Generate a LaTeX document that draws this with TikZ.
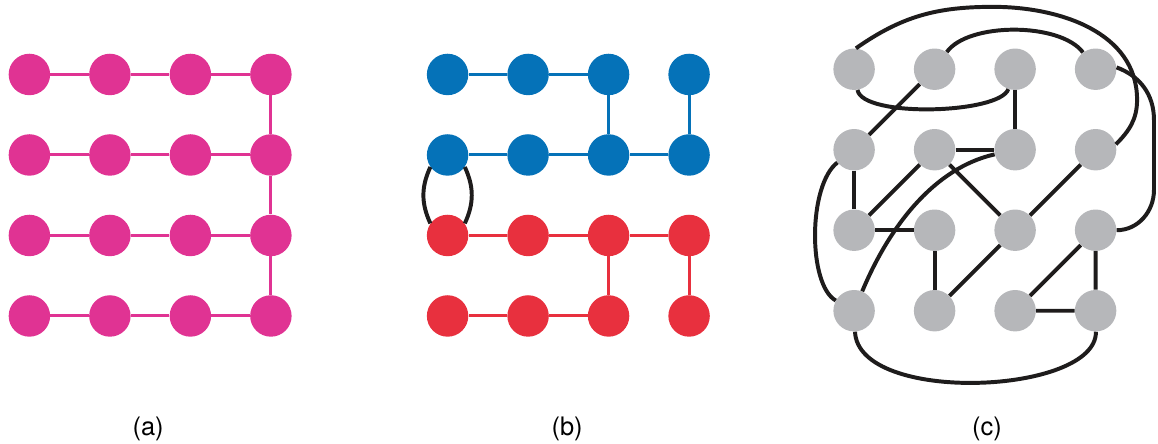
\documentclass[tikz,border=0pt]{standalone}
\usepackage{fontspec}
\setmainfont{TeX Gyre Heros}
\usetikzlibrary{positioning,calc}

\definecolor{pinkdot}{RGB}{224,51,147}
\definecolor{bluedot}{RGB}{5,114,184}
\definecolor{reddot}{RGB}{232,48,62}
\definecolor{graydot}{RGB}{182,183,186}
\definecolor{wireblack}{RGB}{30,28,28}

\tikzset{
	dot/.style={circle, fill=#1, minimum size=1.03cm, inner sep=0pt},
	link/.style={line width=2.1pt, draw=#1},
	wire/.style={line width=2.8pt, draw=wireblack},
	tag/.style={font=\fontsize{18}{20}\selectfont}
}

\begin{document}
\begin{tikzpicture}
	\useasboundingbox (0,0) rectangle (28.77,-11.03);

	% Grid (a)
	\foreach \r in {1,...,4}
		\foreach \c in {1,...,4}
			\node[dot=pinkdot] (a\r\c) at ({0.73+2*(\c-1)}, {-1.85-2*(\r-1)}) {};
	\foreach \r in {1,...,4}
		\draw[link=pinkdot] (a\r1) -- (a\r2) -- (a\r3) -- (a\r4);
	\draw[link=pinkdot] (a14) -- (a24) -- (a34) -- (a44);
	\node[tag] (capa) at (3.68,-10.66) {(a)};

	% Grid (b)
	\foreach \r in {1,2}
		\foreach \c in {1,...,4}
			\node[dot=bluedot] (b\r\c) at ({11.12+2*(\c-1)}, {-1.85-2*(\r-1)}) {};
	\foreach \r in {3,4}
		\foreach \c in {1,...,4}
			\node[dot=reddot] (b\r\c) at ({11.12+2*(\c-1)}, {-1.85-2*(\r-1)}) {};
	\draw[link=bluedot] (b11) -- (b12) -- (b13) -- (b23);
	\draw[link=bluedot] (b21) -- (b22) -- (b23) -- (b24) -- (b14);
	\draw[link=reddot] (b31) -- (b32) -- (b33) -- (b34) -- (b44);
	\draw[link=reddot] (b41) -- (b42) -- (b43) -- (b33);
	\draw[wire] (b21.215) to[out=245,in=115] (b31.145);
	\draw[wire] (b21.-35) to[out=-65,in=65] (b31.35);
	\node[tag] (capb) at (14.09,-10.66) {(b)};

	% Grid (c)
	\foreach \r in {1,...,4}
		\foreach \c in {1,...,4}
			\node[dot=graydot] (c\r\c) at ({21.22+2*(\c-1)}, {-1.72-2*(\r-1)}) {};
	\draw[wire] (c12) -- (c21);
	\draw[wire] (c13) -- (c23);
	\draw[wire] (c22) -- (c23);
	\draw[wire] (c21) -- (c31) -- (c32) -- (c42);
	\draw[wire] (c22) -- (c31);
	\draw[wire] (c22) -- (c33);
	\draw[wire] (c24) -- (c33);
	\draw[wire] (c42) -- (c33);
	\draw[wire] (c34) -- (c43) -- (c44) -- (c34);

	% long curved edges
	\draw[wire] (c11.85) to[out=35,in=180] (24.67,-0.17)
		to[out=0,in=90] (28.25,-2.48) to[out=-90,in=45] (c24.15);
	\draw[wire] (c12) .. controls (24.05,-0.55) and (26.34,-0.55) .. (c14);
	\draw[wire] (c11) .. controls (21.42,-2.93) and (24.84,-2.83) .. (c13);
	\draw[wire] (c14.5) to[out=-20,in=90] (28.67,-2.98) -- (28.67,-4.72)
		to[out=-90,in=0] (c34);
	\draw[wire] (c21) .. controls (20.07,-4.60) and (20.07,-7.08) .. (c41);
	\draw[wire] (c23) .. controls (23.23,-4.17) and (22.11,-5.59) .. (c41);
	\draw[wire] (c41) .. controls (21.32,-10.06) and (27.25,-9.81) .. (c44);
	\node[tag] (capc) at (24.52,-10.66) {(c)};
\end{tikzpicture}
\end{document}
